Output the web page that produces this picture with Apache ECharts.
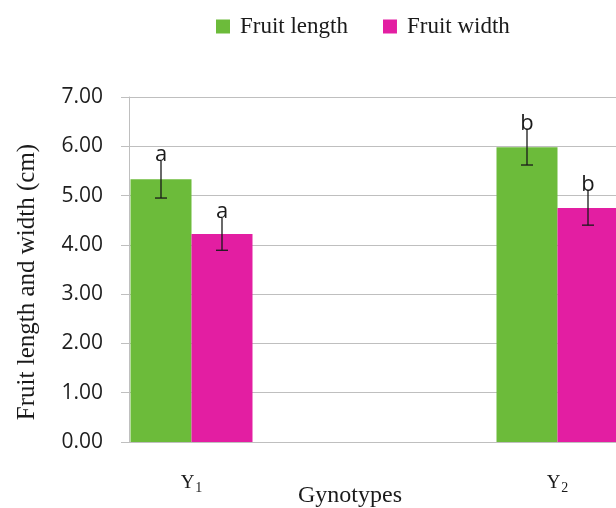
<!DOCTYPE html>
<html>
<head>
<meta charset="utf-8">
<script src="https://cdn.jsdelivr.net/npm/echarts@6/dist/echarts.min.js"></script>
<style>html,body{margin:0;padding:0;background:#fff}#c{width:616px;height:508px}</style>
</head>
<body>
<div id="c"></div>
<script>
// ---- data ----
const categories = ['Y1', 'Y2'];
const seriesNames = ['Fruit length', 'Fruit width'];
const fruitLength = [5.33, 5.98];
const fruitWidth = [4.22, 4.75];
const fruitLengthErr = [0.38, 0.36];
const fruitWidthErr = [0.33, 0.35];
const fruitLengthSig = ['a', 'b'];
const fruitWidthSig = ['a', 'b'];
const yTicks = [0, 1, 2, 3, 4, 5, 6, 7];

// ---- style ----
const GREEN = '#6CBB3A';
const PINK = '#E31EA2';
const GRID_COLOR = '#BFBFBF';
const BAR_W = 61;
const SERIF = '"Liberation Serif", "Times New Roman", serif';
const SANS = '"Open Sans", "Liberation Sans", sans-serif';

function errSeries(values, errs, sigs, offset, name) {
  return {
    type: 'custom',
    name: name,
    xAxisIndex: 1, yAxisIndex: 1,
    z: 5,
    clip: false,
    data: values.map((v, i) => [i, v, errs[i]]),
    renderItem: function (params, api) {
      const i = api.value(0), v = api.value(1), e = api.value(2);
      const sig = sigs[params.dataIndex];
      const c = api.coord([i, v]);
      const x = c[0] + offset;
      const yHi = api.coord([i, v + e])[1];
      const yLo = api.coord([i, v - e])[1];
      const ls = { stroke: '#1a1a1a', lineWidth: 1.3 };
      return {
        type: 'group',
        children: [
          { type: 'line', shape: { x1: x, y1: yHi, x2: x, y2: yLo }, style: ls },
          { type: 'line', shape: { x1: x - 6, y1: yLo, x2: x + 6, y2: yLo }, style: ls },
          { type: 'text', style: { text: sig, x: x, y: yHi + 5, textAlign: 'center', textVerticalAlign: 'bottom',
            font: '22px ' + SANS, fill: '#1a1a1a' } }
        ]
      };
    }
  };
}

const chart = echarts.init(document.getElementById('c'), null, { renderer: 'canvas' });
chart.setOption({
  animation: false,
  backgroundColor: '#fff',
  legend: {
    data: seriesNames,
    left: 211, top: 10,
    icon: 'rect', itemWidth: 14, itemHeight: 14, itemGap: 35,
    textStyle: { fontFamily: SERIF, fontSize: 23, color: '#1a1a1a', padding: [0, 0, 0, 5] }
  },
  grid: [
    { left: 129, width: 620, top: 97, bottom: 66, outerBoundsMode: 'none', containLabel: false },
    { left: 8.5, width: 732, top: 97, bottom: 66, outerBoundsMode: 'none', containLabel: false }
  ],
  xAxis: [
    { gridIndex: 0, type: 'category', data: categories,
      axisLine: { show: true, lineStyle: { color: GRID_COLOR, width: 1 } },
      axisTick: { show: false }, axisLabel: { show: false }, splitLine: { show: false } },
    { gridIndex: 1, type: 'category', data: categories,
      axisLine: { show: false }, axisTick: { show: false },
      axisLabel: { margin: 30, color: '#1a1a1a', fontFamily: SERIF,
        formatter: v => '{m|' + v[0] + '}{s|' + v.slice(1) + '}',
        rich: { m: { fontFamily: SERIF, fontSize: 19, color: '#1a1a1a' },
                s: { fontFamily: SERIF, fontSize: 14, color: '#1a1a1a', padding: [9, 0, 0, 1] } } } }
  ],
  yAxis: [
    { gridIndex: 0, type: 'value', min: yTicks[0], max: yTicks[yTicks.length - 1], interval: 1,
      axisLine: { show: true, lineStyle: { color: GRID_COLOR, width: 1 } },
      axisTick: { show: true, length: 8, lineStyle: { color: GRID_COLOR } },
      splitLine: { show: true, lineStyle: { color: GRID_COLOR, width: 1 } },
      axisLabel: { margin: 26, color: '#1e1e1e', fontFamily: SANS, fontSize: 21, formatter: v => v.toFixed(2) } },
    { gridIndex: 1, type: 'value', min: yTicks[0], max: yTicks[yTicks.length - 1], interval: 1, show: false,
      splitLine: { show: false } }
  ],
  graphic: [
    { type: 'text', x: 27, y: 282, rotation: Math.PI / 2,
      style: { text: 'Fruit length and width (cm)', font: '25px ' + SERIF, fill: '#1a1a1a',
        textAlign: 'center', textVerticalAlign: 'middle' } },
    { type: 'text', x: 350, y: 496,
      style: { text: 'Gynotypes', font: '24px ' + SERIF, fill: '#1a1a1a',
        textAlign: 'center', textVerticalAlign: 'middle' } }
  ],
  series: [
    { type: 'bar', name: seriesNames[0], xAxisIndex: 1, yAxisIndex: 1, data: fruitLength,
      barWidth: BAR_W, barGap: '0%', itemStyle: { color: GREEN } },
    { type: 'bar', name: seriesNames[1], xAxisIndex: 1, yAxisIndex: 1, data: fruitWidth,
      barWidth: BAR_W, barGap: '0%', itemStyle: { color: PINK } },
    errSeries(fruitLength, fruitLengthErr, fruitLengthSig, -BAR_W / 2, 'errL'),
    errSeries(fruitWidth, fruitWidthErr, fruitWidthSig, BAR_W / 2, 'errW')
  ]
});
</script>
</body>
</html>
